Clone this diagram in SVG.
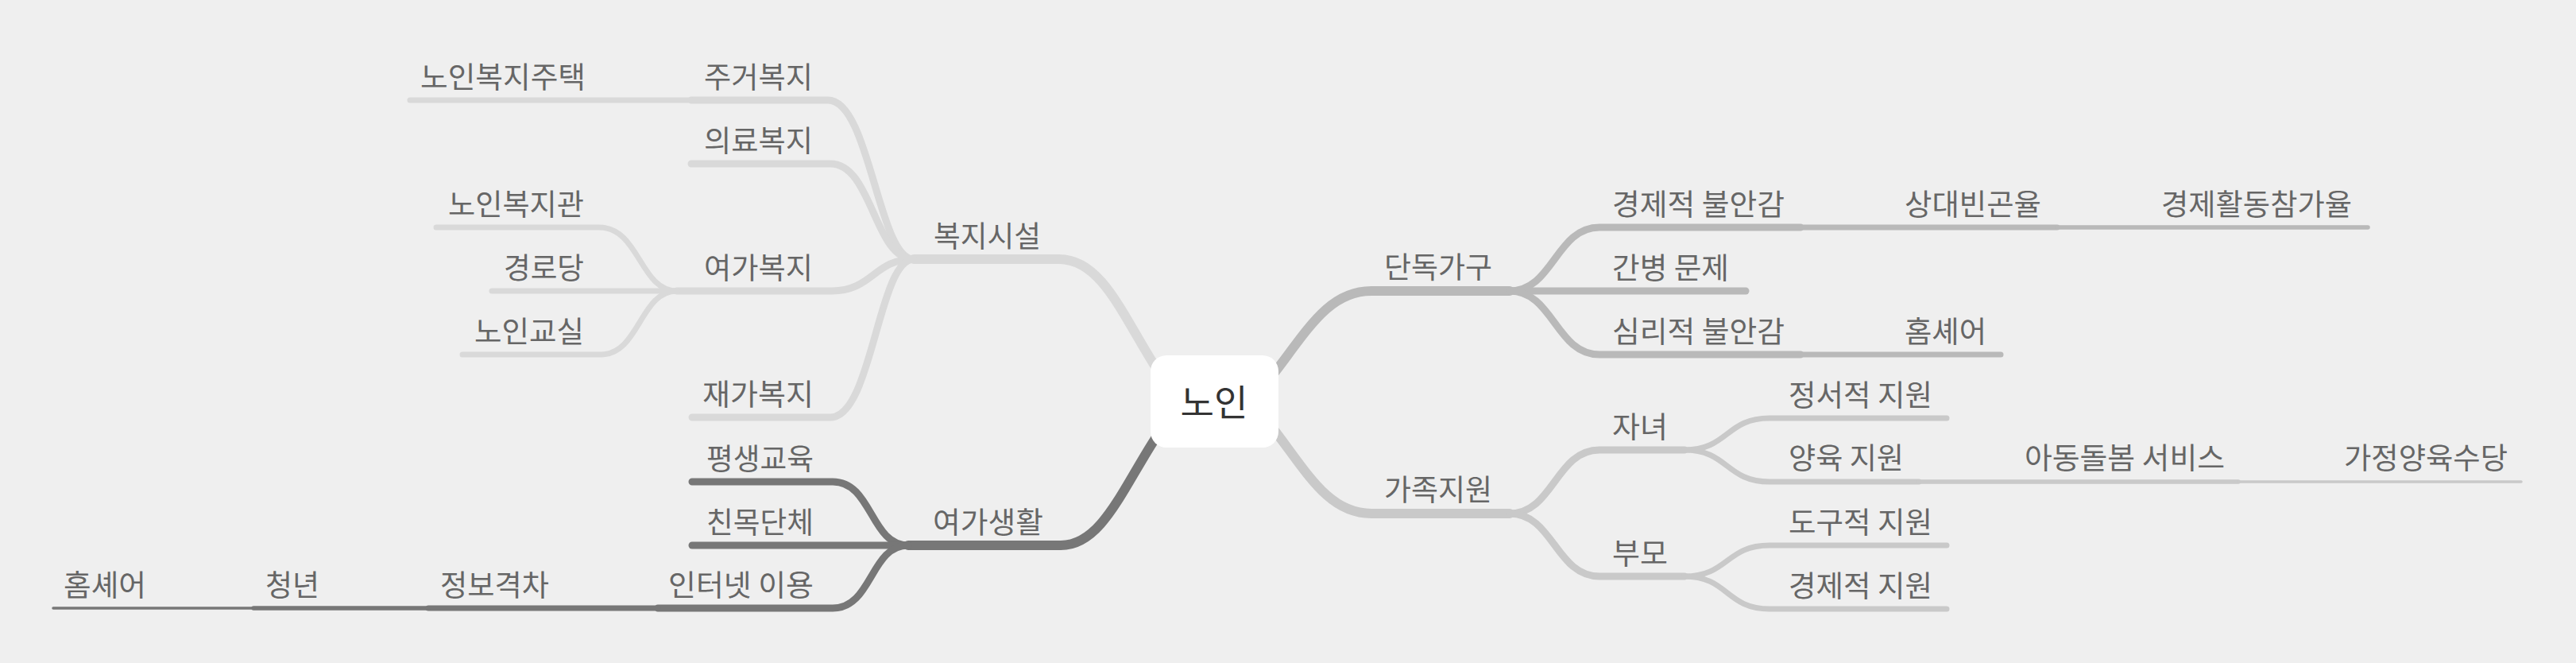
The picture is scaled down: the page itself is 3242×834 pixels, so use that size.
<svg xmlns="http://www.w3.org/2000/svg" width="3242" height="834" viewBox="0 0 3242 834">
<style>
.c{fill:none;stroke-linecap:round;stroke-linejoin:round}
.b1{stroke:#d9d9d9}
.b2{stroke:#777777}
.b3{stroke:#b9b9b9}
.b4{stroke:#c9c9c9}
.w1{stroke-width:12}
.w2{stroke-width:9}
.w3{stroke-width:7}
.w4{stroke-width:5.5}
.w5{stroke-width:3.5}
text{font-family:"Noto Sans CJK KR","Noto Sans",sans-serif}
.t{font-size:37px;fill:#666666;lengthAdjust:spacingAndGlyphs}
.l{text-anchor:end}
.r{text-anchor:start}
.root{font-size:46px;fill:#333333;text-anchor:middle}
</style>
<rect x="0" y="0" width="3242" height="834" fill="#efefef"/>
<g id="connectors">
  <!-- 복지시설 branch -->
  <path class="c b1 w1" d="M1150,326 L1333,326 C1395,326 1420,420 1480,500"/>
  <path class="c b1 w2" d="M870,126 L1042,126 C1095,126 1105,326 1150,326"/>
  <path class="c b1 w2" d="M870,206 L1045,206 C1098,206 1100,326 1150,326"/>
  <path class="c b1 w2" d="M852,366 L1047,366 C1098,366 1100,326 1150,326"/>
  <path class="c b1 w2" d="M871,525 L1045,525 C1098,525 1105,326 1150,326"/>
  <path class="c b1 w3" d="M516,126 L870,126"/>
  <path class="c b1 w3" d="M549,286 L754,286 C805,286 805,366 852,366"/>
  <path class="c b1 w3" d="M619,366 L852,366"/>
  <path class="c b1 w3" d="M582,446 L756,446 C805,446 805,366 852,366"/>
  <!-- 여가생활 branch -->
  <path class="c b2 w1" d="M1143,686 L1335,686 C1395,686 1420,590 1480,515"/>
  <path class="c b2 w2" d="M871,606 L1048,606 C1098,606 1095,686 1143,686"/>
  <path class="c b2 w2" d="M871,686 L1143,686"/>
  <path class="c b2 w2" d="M828,765 L1048,765 C1098,765 1095,686 1143,686"/>
  <path class="c b2 w3" d="M539,765 L828,765"/>
  <path class="c b2 w4" d="M319,765 L539,765"/>
  <path class="c b2 w5" d="M67,765 L319,765"/>
  <!-- 단독가구 branch -->
  <path class="c b3 w1" d="M1579,500 C1639,430 1664,366 1726,366 L1900,366"/>
  <path class="c b3 w2" d="M1900,366 C1955,366 1958,286 2013,286 L2266,286"/>
  <path class="c b3 w2" d="M1900,366 L2197,366"/>
  <path class="c b3 w2" d="M1900,366 C1955,366 1958,446 2013,446 L2266,446"/>
  <path class="c b3 w3" d="M2266,286 L2589,286"/>
  <path class="c b3 w4" d="M2589,286 L2980,286"/>
  <path class="c b3 w3" d="M2266,446 L2518,446"/>
  <!-- 가족지원 branch -->
  <path class="c b4 w1" d="M1579,510 C1639,580 1664,646 1726,646 L1900,646"/>
  <path class="c b4 w2" d="M1900,646 C1955,646 1958,566 2013,566 L2120,566"/>
  <path class="c b4 w2" d="M1900,646 C1955,646 1958,725 2013,725 L2120,725"/>
  <path class="c b4 w3" d="M2120,566 C2175,566 2172,526 2227,526 L2450,526"/>
  <path class="c b4 w3" d="M2120,566 C2175,566 2172,606 2227,606 L2415,606"/>
  <path class="c b4 w4" d="M2415,606 L2817,606"/>
  <path class="c b4 w5" d="M2817,606 L3173,606"/>
  <path class="c b4 w3" d="M2120,725 C2175,725 2172,686 2227,686 L2450,686"/>
  <path class="c b4 w3" d="M2120,725 C2175,725 2172,766 2227,766 L2450,766"/>
</g>
<g id="root">
  <rect x="1448" y="447" width="161" height="116" rx="20" ry="20" fill="#ffffff"/>
  <text class="root" x="1528" y="523" textLength="85" lengthAdjust="spacingAndGlyphs">노인</text>
</g>
<g id="n-bokji"><text class="t l" x="1310" y="311" textLength="135" lengthAdjust="spacingAndGlyphs">복지시설</text></g>
<g id="n-jugeo"><text class="t l" x="1023" y="111" textLength="137" lengthAdjust="spacingAndGlyphs">주거복지</text></g>
<g id="n-jutaek"><text class="t l" x="737" y="111" textLength="208" lengthAdjust="spacingAndGlyphs">노인복지주택</text></g>
<g id="n-uiryo"><text class="t l" x="1023" y="191" textLength="137" lengthAdjust="spacingAndGlyphs">의료복지</text></g>
<g id="n-yeoga"><text class="t l" x="1023" y="351" textLength="137" lengthAdjust="spacingAndGlyphs">여가복지</text></g>
<g id="n-gwan"><text class="t l" x="735" y="271" textLength="171" lengthAdjust="spacingAndGlyphs">노인복지관</text></g>
<g id="n-gyeongro"><text class="t l" x="735" y="351" textLength="101" lengthAdjust="spacingAndGlyphs">경로당</text></g>
<g id="n-gyosil"><text class="t l" x="735" y="431" textLength="138" lengthAdjust="spacingAndGlyphs">노인교실</text></g>
<g id="n-jaega"><text class="t l" x="1024" y="510" textLength="140" lengthAdjust="spacingAndGlyphs">재가복지</text></g>
<g id="n-yeogasaeng"><text class="t l" x="1313" y="671" textLength="139" lengthAdjust="spacingAndGlyphs">여가생활</text></g>
<g id="n-pyeongsaeng"><text class="t l" x="1024" y="591" textLength="135" lengthAdjust="spacingAndGlyphs">평생교육</text></g>
<g id="n-chinmok"><text class="t l" x="1024" y="671" textLength="135" lengthAdjust="spacingAndGlyphs">친목단체</text></g>
<g id="n-internet"><text class="t l" x="1024" y="750" textLength="183" lengthAdjust="spacingAndGlyphs">인터넷 이용</text></g>
<g id="n-jeongbo"><text class="t l" x="691" y="750" textLength="137" lengthAdjust="spacingAndGlyphs">정보격차</text></g>
<g id="n-cheongnyeon"><text class="t l" x="402" y="750" textLength="68" lengthAdjust="spacingAndGlyphs">청년</text></g>
<g id="n-homeshare-l"><text class="t l" x="184" y="750" textLength="104" lengthAdjust="spacingAndGlyphs">홈셰어</text></g>
<g id="n-dandok"><text class="t r" x="1742" y="350" textLength="136" lengthAdjust="spacingAndGlyphs">단독가구</text></g>
<g id="n-gyeongje-bul"><text class="t r" x="2029" y="271" textLength="217" lengthAdjust="spacingAndGlyphs">경제적 불안감</text></g>
<g id="n-sangdae"><text class="t r" x="2397" y="271" textLength="172" lengthAdjust="spacingAndGlyphs">상대빈곤율</text></g>
<g id="n-hwaldong"><text class="t r" x="2720" y="271" textLength="240" lengthAdjust="spacingAndGlyphs">경제활동참가율</text></g>
<g id="n-ganbyeong"><text class="t r" x="2029" y="351" textLength="147" lengthAdjust="spacingAndGlyphs">간병 문제</text></g>
<g id="n-simri"><text class="t r" x="2029" y="431" textLength="217" lengthAdjust="spacingAndGlyphs">심리적 불안감</text></g>
<g id="n-homeshare-r"><text class="t r" x="2397" y="431" textLength="103" lengthAdjust="spacingAndGlyphs">홈셰어</text></g>
<g id="n-gajok"><text class="t r" x="1742" y="630" textLength="136" lengthAdjust="spacingAndGlyphs">가족지원</text></g>
<g id="n-janyeo"><text class="t r" x="2029" y="551" textLength="70" lengthAdjust="spacingAndGlyphs">자녀</text></g>
<g id="n-jeongseo"><text class="t r" x="2251" y="511" textLength="181" lengthAdjust="spacingAndGlyphs">정서적 지원</text></g>
<g id="n-yangyuk"><text class="t r" x="2251" y="590" textLength="145" lengthAdjust="spacingAndGlyphs">양육 지원</text></g>
<g id="n-adong"><text class="t r" x="2548" y="590" textLength="252" lengthAdjust="spacingAndGlyphs">아동돌봄 서비스</text></g>
<g id="n-gajeong"><text class="t r" x="2950" y="590" textLength="206" lengthAdjust="spacingAndGlyphs">가정양육수당</text></g>
<g id="n-bumo"><text class="t r" x="2029" y="710" textLength="70" lengthAdjust="spacingAndGlyphs">부모</text></g>
<g id="n-dogu"><text class="t r" x="2251" y="671" textLength="181" lengthAdjust="spacingAndGlyphs">도구적 지원</text></g>
<g id="n-gyeongje-ji"><text class="t r" x="2251" y="751" textLength="181" lengthAdjust="spacingAndGlyphs">경제적 지원</text></g>
</svg>
